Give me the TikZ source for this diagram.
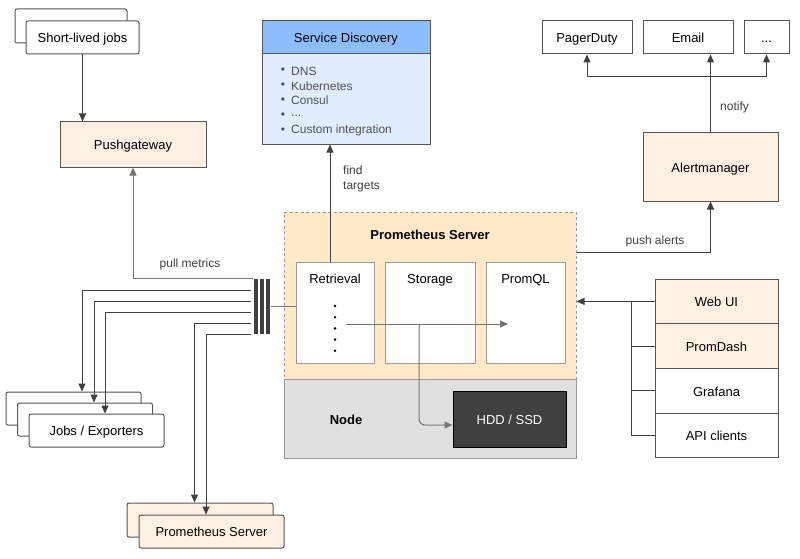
\documentclass[tikz,border=0pt]{standalone}
\usepackage{fontspec}
\setmainfont{Liberation Sans}
\usetikzlibrary{arrows.meta,calc}
\definecolor{peach}{HTML}{FEF0E2}
\definecolor{psfill}{HTML}{FFE9C7}
\definecolor{sdhead}{HTML}{8CBDFF}
\definecolor{sdbody}{HTML}{E1EDFE}
\definecolor{nodegray}{HTML}{E0E0E0}
\definecolor{hddfill}{HTML}{404040}
\definecolor{ln}{HTML}{404040}
\definecolor{gln}{HTML}{757575}
\definecolor{bd}{HTML}{555555}
\definecolor{lbd}{HTML}{9A9A9A}
\definecolor{txtg}{HTML}{505050}
\begin{document}
\begin{tikzpicture}[x=1pt,y=-1pt,
  box/.style={draw=bd, line width=1pt, rectangle, inner sep=0pt, fill=white,
    font=\fontsize{13}{15}\selectfont, text=black, text height=11.5pt, text depth=1pt},
  rbox/.style={box, rounded corners=2pt},
  peachbox/.style={box, fill=peach},
  inbox/.style={box, draw=lbd},
  lab/.style={inner sep=0pt, font=\fontsize{13}{15}\selectfont, text height=11.5pt, text depth=1pt},
  blab/.style={lab, font=\fontsize{13}{15}\selectfont\bfseries},
  slab/.style={inner sep=0pt, font=\fontsize{12}{15}\selectfont, text=ln},
  item/.style={inner sep=0pt, anchor=west, font=\fontsize{12}{14}\selectfont, text=txtg},
  bul/.style={inner sep=0pt, font=\fontsize{12}{14}\selectfont, text=txtg},
  conn/.style={draw=ln, line width=1pt},
  arr/.style={conn, -{Triangle[length=8pt,width=7pt]}},
  gconn/.style={draw=gln, line width=1pt},
  garr/.style={gconn, -{Triangle[length=8pt,width=7pt]}},
]
\useasboundingbox (0,0) rectangle (800,559);

% Short-lived jobs
\node[rbox, minimum width=112pt, minimum height=34pt] (sljb) at (71,26) {};
\node[rbox, minimum width=113pt, minimum height=33pt] (slj) at (82.5,37.5) {Short-lived jobs};

% Pushgateway
\node[peachbox, minimum width=146pt, minimum height=45pt] (push) at (133,144.5) {Pushgateway};
\draw[arr] (slj.south) -- (slj.south |- push.north);

% Service discovery
\node[box, fill=sdbody, minimum width=168pt, minimum height=90pt] (sdb) at (346,99) {};
\node[box, fill=sdhead, minimum width=168pt, minimum height=33pt] (sdh) at (346,37.5) {Service Discovery};
\node[item] (sdi1) at (291,71) {DNS};
\node[item] (sdi2) at (291,85.8) {Kubernetes};
\node[item] (sdi3) at (291,100.6) {Consul};
\node[item] (sdi4) at (291,115.4) {...};
\node[item] (sdi5) at (291,130.2) {Custom integration};
\node[bul] (sdd1) at (283,71) {•};
\node[bul] (sdd2) at (283,85.8) {•};
\node[bul] (sdd3) at (283,100.6) {•};
\node[bul] (sdd4) at (283,115.4) {•};
\node[bul] (sdd5) at (283,130.2) {•};

% Prometheus server region and node
\node[draw=lbd, line width=1pt, dash pattern=on 3pt off 2.5pt, fill=psfill, minimum width=292pt, minimum height=167pt, inner sep=0pt] (psv) at (430,295.5) {};
\node[draw=lbd, line width=1pt, fill=nodegray, minimum width=292pt, minimum height=79pt, inner sep=0pt] (nodebox) at (430,418.5) {};
\node[blab] (pstitle) at (430,234) {Prometheus Server};
\node[blab] (nodetitle) at (346,419) {Node};

\node[inbox, minimum width=78pt, minimum height=101pt] (ret) at (335,312.5) {};
\node[inbox, minimum width=90pt, minimum height=101pt] (sto) at (430,312.5) {};
\node[inbox, minimum width=79pt, minimum height=101pt] (pql) at (525.5,312.5) {};
\node[lab] (retl) at ([yshift=-17pt]ret.north) {Retrieval};
\node[lab] (stol) at ([yshift=-17pt]sto.north) {Storage};
\node[lab] (pqll) at ([yshift=-17pt]pql.north) {PromQL};
\foreach \yy in {306,317.2,328.4,339.6,350.8}{\fill (335,\yy) circle (1.4);}

\node[box, fill=hddfill, draw=black, text=white, minimum width=113pt, minimum height=56pt] (hdd) at (509.5,419) {HDD / SSD};

\coordinate (dotsR) at (346,324);
\coordinate (pqin) at (508,324);
\coordinate (stdown) at (419,324);
\draw[garr] (dotsR) -- (pqin);
\draw[garr, rounded corners=6pt] (stdown) |- ([yshift=-6pt]hdd.west);

% Retrieval to service discovery
\draw[arr] ([xshift=-5pt]ret.north) -- ([xshift=-5pt]ret.north |- sdb.south);
\node[slab, align=left, anchor=west] (findl) at (343,178.5) {find\\targets};

% bar
\node[inner sep=0pt, minimum width=17pt, minimum height=55pt] (bar) at (262,306.5) {};
\fill[ln] (253.5,279) rectangle (257.5,334);
\fill[ln] (259.9,279) rectangle (263.9,334);
\fill[ln] (266.2,279) rectangle (270.2,334);
\draw[gconn] (bar.east) -- (bar.east -| ret.west);

% pull metrics
\draw[garr] (bar.north west) -| (push.south);
\node[slab] (pulll) at (190,264) {pull metrics};

% jobs / exporters
\node[rbox, minimum width=135pt, minimum height=33pt] (jb) at (73.5,408.5) {};
\node[rbox, minimum width=135pt, minimum height=33pt] (jm) at (85,419.5) {};
\node[rbox, minimum width=135pt, minimum height=33pt] (jf) at (96.5,430.5) {Jobs / Exporters};

\coordinate (b1) at (250.5,290);
\coordinate (b2) at (250.5,301);
\coordinate (b3) at (250.5,312);
\coordinate (b4) at (250.5,323);
\coordinate (b5) at (250.5,334.5);
\draw[arr] (b1) -| ([xshift=8.5pt]jb.north);
\draw[arr] (b2) -| ([xshift=9pt]jm.north);
\draw[arr] (b3) -| ([xshift=8.5pt]jf.north);

% prometheus server (other)
\node[rbox, fill=peach, minimum width=146pt, minimum height=34pt] (psb) at (200,520) {};
\node[rbox, fill=peach, minimum width=145pt, minimum height=33pt] (psf) at (211.5,531.5) {Prometheus Server};
\draw[arr] (b4) -| ([xshift=-5.5pt]psb.north);
\draw[arr] (b5) -| ([xshift=-5.5pt]psf.north);

% Alertmanager and notification
\node[peachbox, minimum width=135pt, minimum height=68pt] (am) at (710.5,167) {Alertmanager};
\node[box, minimum width=90pt, minimum height=33pt] (pd) at (587,37.5) {PagerDuty};
\node[box, minimum width=90pt, minimum height=33pt] (email) at (688,37.5) {Email};
\node[box, minimum width=45pt, minimum height=33pt] (etc) at (766.5,37.5) {...};
\coordinate (split) at (710.5,77);
\draw[arr] (am.north) -- (am.north |- email.south);
\draw[arr] (split) -| (pd.south);
\draw[arr] (split) -| (etc.south);
\node[slab, anchor=west] (notifyl) at (720,107) {notify};

\draw[arr] ([yshift=43.5pt]psv.east) -| (am.south);
\node[slab] (pushl) at (655,241) {push alerts};

% Clients
\node[peachbox, minimum width=123pt, minimum height=44.75pt] (webui) at (716.5,301.4) {Web UI};
\node[peachbox, minimum width=123pt, minimum height=44.75pt] (pdash) at (716.5,346.1) {PromDash};
\node[box, minimum width=123pt, minimum height=44.75pt] (graf) at (716.5,390.9) {Grafana};
\node[box, minimum width=123pt, minimum height=44.75pt] (api) at (716.5,435.6) {API clients};
\draw[arr] (webui.west) -- (webui.west -| psv.east);
\draw[conn] (api.west) -- ++(-23,0) |- (webui.west);
\draw[conn] (pdash.west) -- ++(-23,0);
\draw[conn] (graf.west) -- ++(-23,0);
\end{tikzpicture}
\end{document}
